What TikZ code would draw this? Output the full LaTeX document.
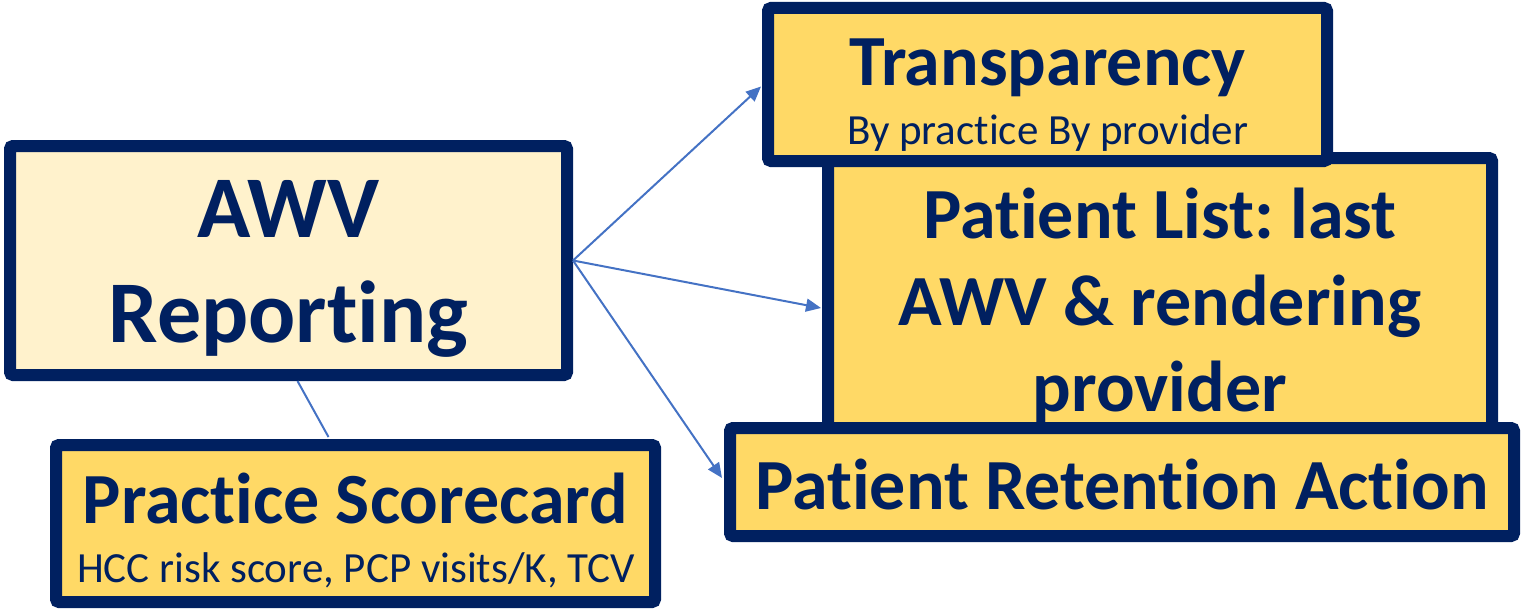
\documentclass[tikz,border=0pt]{standalone}
\usepackage{fontspec}
\setmainfont{Carlito}[Ligatures={NoCommon}]
\frenchspacing
\usetikzlibrary{arrows.meta,calc}
\definecolor{navy}{HTML}{002060}
\definecolor{lightfill}{HTML}{FFF2CC}
\definecolor{goldfill}{HTML}{FFD966}
\definecolor{arrowblue}{HTML}{4472C4}
\tikzset{
  boxnode/.style={draw=navy, line width=12pt, rounded corners=3pt, inner sep=0pt, rectangle},
  bigtxt/.style={inner sep=0pt, anchor=base, text=navy, font=\fontsize{88}{88}\selectfont\bfseries},
  headtxt/.style={inner sep=0pt, anchor=base, text=navy, font=\fontsize{72}{72}\selectfont\bfseries},
  subtxt/.style={inner sep=0pt, anchor=base, text=navy, font=\fontsize{43}{43}\selectfont},
  conn/.style={draw=arrowblue, line width=2pt},
  arr/.style={conn, -{Triangle[length=15pt,width=13pt]}}
}
\begin{document}
\begin{tikzpicture}[x=1pt,y=-1pt]
\useasboundingbox (0,0) rectangle (1521,610);
% AWV Reporting
\node[boxnode, fill=lightfill, minimum width=557pt, minimum height=229pt] (awv) at (288.5,260.5) {};
\node[bigtxt] (awvA) at (288.5,237) {AWV};
\node[bigtxt] (awvB) at (288.5,342) {Reporting};
% Practice Scorecard
\node[boxnode, fill=goldfill, minimum width=599pt, minimum height=157pt] (prac) at (355.5,523.5) {};
\node[headtxt] (pracA) at (355.5,523) {Practice Scorecard};
\node[subtxt] (pracB) at (356,582) {HCC risk score, PCP visits/K, TCV};
% Patient List
\node[boxnode, fill=goldfill, minimum width=664pt, minimum height=276pt] (plist) at (1160,296) {};
\node[headtxt] (plA) at (1160,238) {Patient List: last};
\node[headtxt] (plB) at (1160,325) {AWV \& rendering};
\node[headtxt] (plC) at (1160,411) {provider};
% Transparency
\node[boxnode, fill=goldfill, minimum width=559pt, minimum height=153pt] (trans) at (1047.5,84.5) {};
\node[headtxt] (trA) at (1047.5,85) {Transparency};
\node[subtxt] (trB) at (1047.5,144) {By practice By provider};
% Patient Retention Action
\node[boxnode, fill=goldfill, minimum width=784pt, minimum height=108pt] (ret) at (1122,482) {};
\node[headtxt] (retA) at (1122,509) {Patient Retention Action};
% connectors
\draw[conn] ($(awv.south)+(9,0)$) -- ($(prac.north)+(-27,-2)$);
\draw[arr] (awv.east) -- ($(trans.west)+(-1,2)$);
\draw[arr] (awv.east) -- ($(plist.west)+(-1,12)$);
\draw[arr] (awv.east) -- ($(ret.west)+(-2,-4)$);
\end{tikzpicture}
\end{document}
